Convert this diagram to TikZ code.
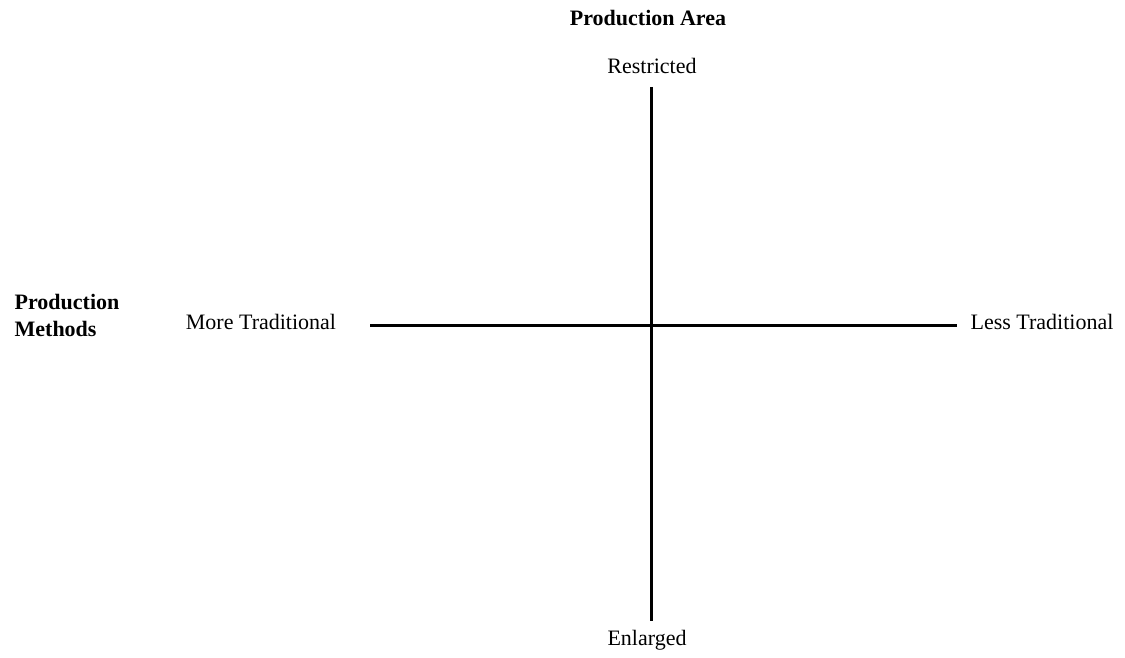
\documentclass[tikz,border=0pt]{standalone}
\usepackage{fontspec}
\setmainfont{Liberation Serif}
\usetikzlibrary{positioning}

\begin{document}
\begin{tikzpicture}[x=0.5pt,y=-0.5pt,font=\fontsize{11}{13.5}\selectfont]
\useasboundingbox (0,0) rectangle (1125,658);
\tikzset{axislbl/.style={inner sep=0pt},
  titlelbl/.style={inner sep=0pt, font=\fontsize{11}{13.5}\selectfont\bfseries}}
% ends of the two axes
\coordinate (T) at (651,87);
\coordinate (B) at (651,621);
\coordinate (L) at (370,325);
\coordinate (R) at (957,325);
\draw[line width=1.5pt] (T) -- (B);
\draw[line width=1.5pt] (L) -- (R);
% labels
\node[titlelbl](Area) at (648,18){Production Area};
\node[axislbl](Restr) at (652,66){Restricted};
\node[axislbl](Enl) at (647,640){Enlarged};
\node[titlelbl, align=left](Meth) at (67,315){Production\\Methods};
\node[axislbl](More) at (261,322){More Traditional};
\node[axislbl](Less) at (1042,322){Less Traditional};
\end{tikzpicture}
\end{document}
